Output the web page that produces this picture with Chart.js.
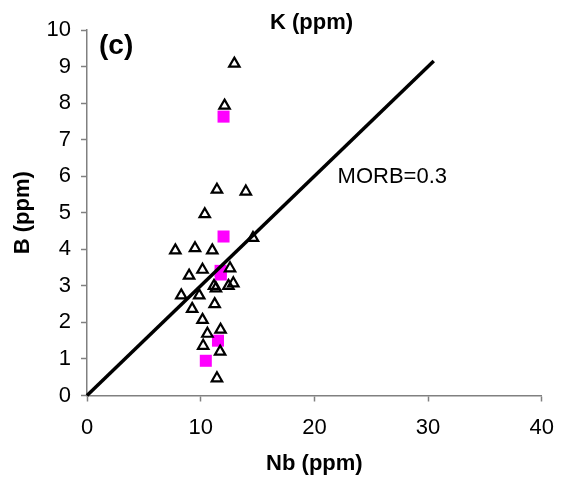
<!DOCTYPE html>
<html>
<head>
<meta charset="utf-8">
<script src="https://cdn.jsdelivr.net/npm/chart.js@4"></script>
<style>
  body { margin: 0; background: #fff; }
  #wrap { width: 567px; height: 486px; }
</style>
</head>
<body>
<div id="wrap"><canvas id="chart" width="567" height="486"></canvas></div>
<script>
// Data
const TRI_NB = [12.96, 12.10, 11.43, 13.97, 10.36, 14.60, 7.77, 9.50, 11.02, 12.58, 10.16, 8.98, 11.17,
                11.34, 12.44, 12.87, 8.29, 9.87, 11.23, 9.25, 10.16, 10.59, 11.75, 10.22, 11.71, 11.43];
const TRI_B  = [9.08, 7.93, 5.63, 5.58, 4.96, 4.31, 3.97, 4.03, 3.97, 3.48, 3.44, 3.28, 3.00,
                2.93, 3.00, 3.07, 2.74, 2.74, 2.50, 2.37, 2.07, 1.69, 1.80, 1.36, 1.20, 0.47];
const SQ_NB = [12.01, 12.01, 11.75, 11.77, 11.52, 10.45];
const SQ_B  = [7.63, 4.35, 3.41, 3.31, 1.50, 0.95];
const MORB_NB = [0, 30.5];
const MORB_B  = [0, 9.15];

const FONT = '"Liberation Sans", Arial, sans-serif';
const AXIS_GREY = '#808080';

const toPoints = (xs, ys) => xs.map((x, i) => ({ x: x, y: ys[i] }));

// Free text labels drawn on top of the plot
const textLabels = {
    id: 'textLabels',
    afterDraw(chart) {
        const ctx = chart.ctx;
        ctx.save();
        ctx.fillStyle = '#000';
        ctx.textBaseline = 'alphabetic';
        ctx.textAlign = 'left';
        ctx.font = 'bold 28px ' + FONT;
        ctx.fillText('(c)', 99, 54);
        ctx.font = 'bold 22px ' + FONT;
        ctx.fillText('K (ppm)', 270, 29);
        ctx.textAlign = 'right';
        ctx.font = '22px ' + FONT;
        ctx.fillText('MORB=0.3', 447, 183);
        ctx.restore();
    }
};

new Chart(document.getElementById('chart').getContext('2d'), {
    type: 'scatter',
    data: {
        datasets: [
            {
                label: 'MORB',
                data: toPoints(MORB_NB, MORB_B),
                showLine: true,
                borderColor: '#000',
                borderWidth: 3.5,
                pointRadius: 0,
                clip: false
            },
            {
                label: 'samples',
                data: toPoints(TRI_NB, TRI_B),
                pointStyle: 'triangle',
                pointRadius: 6,
                borderWidth: 2.2,
                borderColor: '#000',
                backgroundColor: 'rgba(0,0,0,0)',
                clip: false
            },
            {
                label: 'other',
                data: toPoints(SQ_NB, SQ_B),
                pointStyle: 'rect',
                pointRadius: 8.5,
                borderWidth: 0,
                backgroundColor: '#FF00FF',
                clip: false
            }
        ]
    },
    options: {
        responsive: false,
        animation: false,
        layout: { padding: { left: 0, right: 18, top: 30, bottom: 0 } },
        plugins: {
            legend: { display: false },
            tooltip: { enabled: false }
        },
        scales: {
            x: {
                type: 'linear',
                min: 0,
                max: 40,
                afterFit: s => { s.height = 90.5; },
                ticks: { stepSize: 10, color: '#000', padding: 13, font: { family: FONT, size: 22 } },
                grid: { drawOnChartArea: false, tickLength: 6, tickColor: AXIS_GREY, tickWidth: 1.5 },
                border: { color: AXIS_GREY, width: 1.5 },
                title: {
                    display: true,
                    text: 'Nb (ppm)',
                    color: '#000',
                    font: { family: FONT, size: 22, weight: 'bold' },
                    padding: { top: 0, bottom: 9 }
                }
            },
            y: {
                type: 'linear',
                min: 0,
                max: 10,
                afterFit: s => { s.width = 87; },
                ticks: { stepSize: 1, color: '#000', padding: 10, font: { family: FONT, size: 22 } },
                grid: { drawOnChartArea: false, tickLength: 6, tickColor: AXIS_GREY, tickWidth: 1.5 },
                border: { color: AXIS_GREY, width: 1.5 },
                title: {
                    display: true,
                    text: 'B (ppm)',
                    color: '#000',
                    font: { family: FONT, size: 22, weight: 'bold' },
                    padding: { top: 10, bottom: 0 }
                }
            }
        }
    },
    plugins: [textLabels]
});
</script>
</body>
</html>
